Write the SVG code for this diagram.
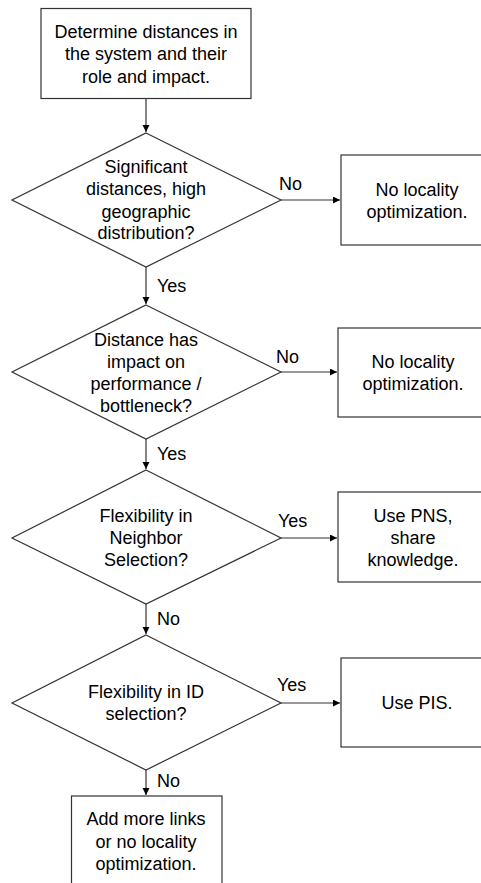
<svg xmlns="http://www.w3.org/2000/svg" width="481" height="883" viewBox="0 0 481 883">
<style>
.n{fill:#fff;stroke:#333;stroke-width:1.2}
.t{font-family:"Liberation Sans",Arial,sans-serif;font-size:18px;fill:#000;text-anchor:middle}
.l{font-family:"Liberation Sans",Arial,sans-serif;font-size:18px;fill:#000}
.c{stroke:#333;stroke-width:1.2;fill:none;marker-end:url(#a)}
</style>
<defs>
<marker id="a" markerWidth="8" markerHeight="8" refX="7" refY="3.5" orient="auto" markerUnits="userSpaceOnUse">
<path d="M0,0 L7,3.5 L0,7 Z" fill="#000"/>
</marker>
</defs>
<rect width="481" height="883" fill="#fff"/>
<g id="connectors">
<line class="c" x1="146" y1="98" x2="146" y2="132"/>
<line class="c" x1="281" y1="200" x2="340" y2="200"/>
<line class="c" x1="146" y1="267" x2="146" y2="304"/>
<line class="c" x1="281" y1="372" x2="337" y2="372"/>
<line class="c" x1="146" y1="439" x2="146" y2="469"/>
<line class="c" x1="281" y1="538" x2="337" y2="538"/>
<line class="c" x1="146" y1="604" x2="146" y2="634"/>
<line class="c" x1="281" y1="703" x2="340" y2="703"/>
<line class="c" x1="146" y1="770" x2="146" y2="795"/>
<text class="l" x="279" y="190">No</text>
<text class="l" x="157" y="292">Yes</text>
<text class="l" x="276" y="363">No</text>
<text class="l" x="157" y="460">Yes</text>
<text class="l" x="278" y="527">Yes</text>
<text class="l" x="157" y="625">No</text>
<text class="l" x="277" y="691">Yes</text>
<text class="l" x="157" y="787">No</text>
</g>
<g id="start">
<rect class="n" x="41" y="8.5" width="210" height="90"/>
<text class="t" x="146" y="38">Determine distances in</text>
<text class="t" x="146" y="60">the system and their</text>
<text class="t" x="146" y="83">role and impact.</text>
</g>
<g id="d1">
<polygon class="n" points="146,133 281,200 146,267 12,200"/>
<text class="t" x="146" y="173">Significant</text>
<text class="t" x="146" y="195">distances, high</text>
<text class="t" x="146" y="218">geographic</text>
<text class="t" x="146" y="239">distribution?</text>
</g>
<g id="r1">
<rect class="n" x="341" y="155" width="150" height="90"/>
<text class="t" x="417" y="196">No locality</text>
<text class="t" x="417" y="218">optimization.</text>
</g>
<g id="d2">
<polygon class="n" points="146,305 281,372 146,439 12,372"/>
<text class="t" x="146" y="346">Distance has</text>
<text class="t" x="146" y="368">impact on</text>
<text class="t" x="146" y="390">performance /</text>
<text class="t" x="146" y="412">bottleneck?</text>
</g>
<g id="r2">
<rect class="n" x="338" y="328" width="150" height="89"/>
<text class="t" x="413" y="368">No locality</text>
<text class="t" x="413" y="390">optimization.</text>
</g>
<g id="d3">
<polygon class="n" points="146,470 281,538 146,604 12,538"/>
<text class="t" x="146" y="522">Flexibility in</text>
<text class="t" x="146" y="544">Neighbor</text>
<text class="t" x="146" y="566">Selection?</text>
</g>
<g id="r3">
<rect class="n" x="338" y="492" width="150" height="90"/>
<text class="t" x="413" y="522">Use PNS,</text>
<text class="t" x="413" y="544">share</text>
<text class="t" x="413" y="566">knowledge.</text>
</g>
<g id="d4">
<polygon class="n" points="146,635 281,703 146,770 12,703"/>
<text class="t" x="146" y="698">Flexibility in ID</text>
<text class="t" x="146" y="720">selection?</text>
</g>
<g id="r4">
<rect class="n" x="341" y="658" width="150" height="89"/>
<text class="t" x="417" y="709">Use PIS.</text>
</g>
<g id="end">
<rect class="n" x="71.5" y="796" width="150.5" height="100"/>
<text class="t" x="146" y="825">Add more links</text>
<text class="t" x="146" y="848">or no locality</text>
<text class="t" x="146" y="870">optimization.</text>
</g>
</svg>
